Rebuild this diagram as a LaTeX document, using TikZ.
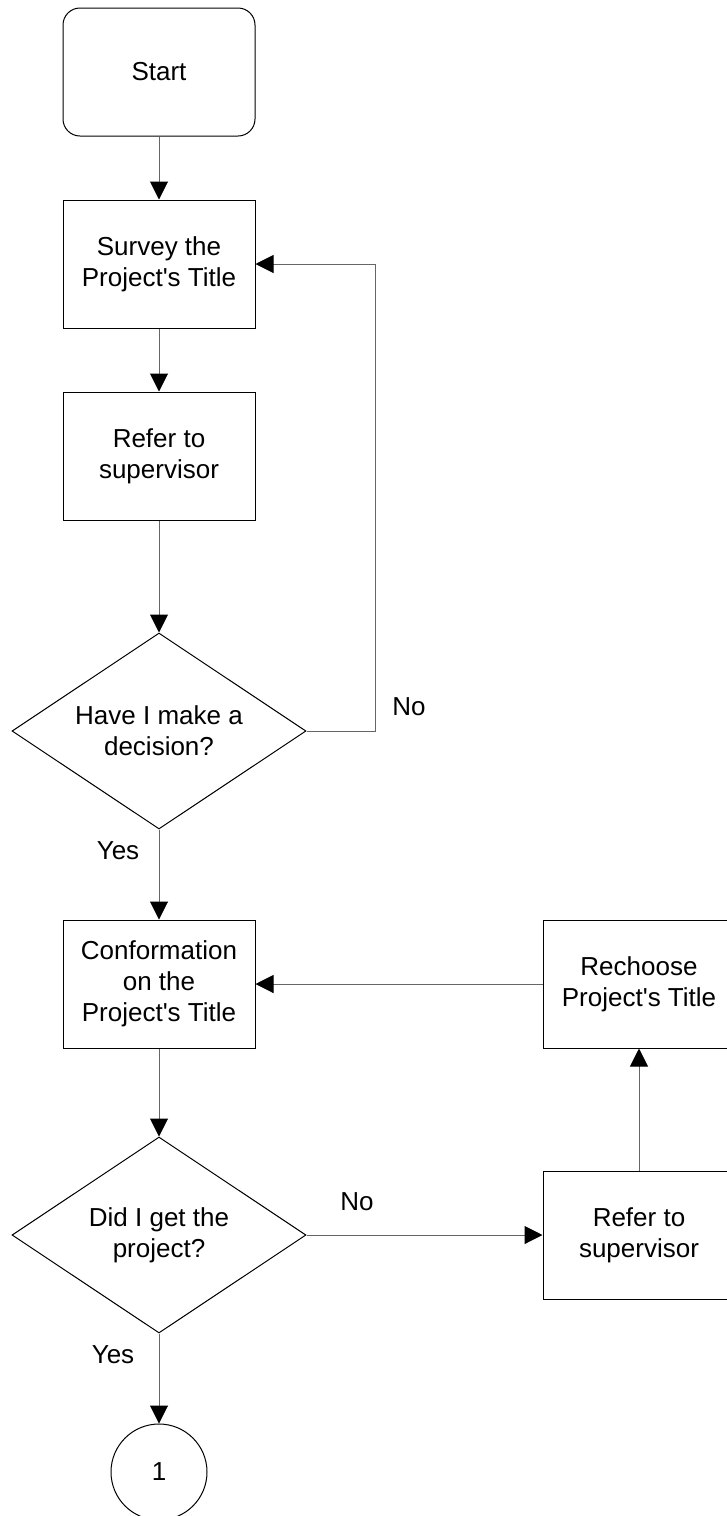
\documentclass[tikz,border=0pt]{standalone}
\usepackage{fontspec}
\setmainfont{Liberation Sans}
\usetikzlibrary{shapes.geometric,arrows.meta}
\begin{document}
\begin{tikzpicture}[x=1pt,y=-1pt,
  font=\fontsize{26}{31}\selectfont,
  box/.style={draw,line width=1pt,minimum width=192pt,minimum height=128pt,align=center,inner sep=0pt},
  startbox/.style={box,rounded corners=17pt},
  decision/.style={draw,line width=1pt,diamond,shape aspect=1.5,minimum width=294pt,minimum height=196pt,align=center,inner sep=0pt},
  connector/.style={draw=black,line width=1pt,circle,minimum size=96pt,inner sep=0pt},
  conn/.style={draw=black!60,line width=1pt,-{Triangle[length=18pt,width=18pt,color=black]}},
  lbl/.style={inner sep=0pt}]
\useasboundingbox (0,0) rectangle (726,1516);
\node[startbox] (start) at (159,72) {Start};
\node[box] (survey) at (159,264) {Survey the\\Project\textquotesingle s Title};
\node[box] (refer) at (159,456) {Refer to\\supervisor};
\node[decision] (d1) at (159,731) {Have I make a\\decision?};
\node[box] (conf) at (159,984) {Conformation\\on the\\Project\textquotesingle s Title};
\node[decision] (d2) at (159,1235) {Did I get the\\project?};
\node[connector] (circ) at (159,1472) {1};
\node[box] (rech) at (639,984) {Rechoose\\Project\textquotesingle s Title};
\node[box] (refer2) at (639,1235) {Refer to\\supervisor};
\coordinate (loop) at (375,264);
\node[lbl] (no1) at (409,707) {No};
\node[lbl] (yes1) at (118,851) {Yes};
\node[lbl] (no2) at (357,1202) {No};
\node[lbl] (yes2) at (113,1355) {Yes};
\draw[conn] (start) -- (survey);
\draw[conn] (survey) -- (refer);
\draw[conn] (refer) -- (d1);
\draw[conn] (d1.east) -| (loop) -- (survey.east);
\draw[conn] (d1) -- (conf);
\draw[conn] (conf) -- (d2);
\draw[conn] (d2.east) -- (refer2.west);
\draw[conn] (refer2) -- (rech);
\draw[conn] (rech.west) -- (conf.east);
\draw[conn] (d2) -- (circ);
\end{tikzpicture}
\end{document}
